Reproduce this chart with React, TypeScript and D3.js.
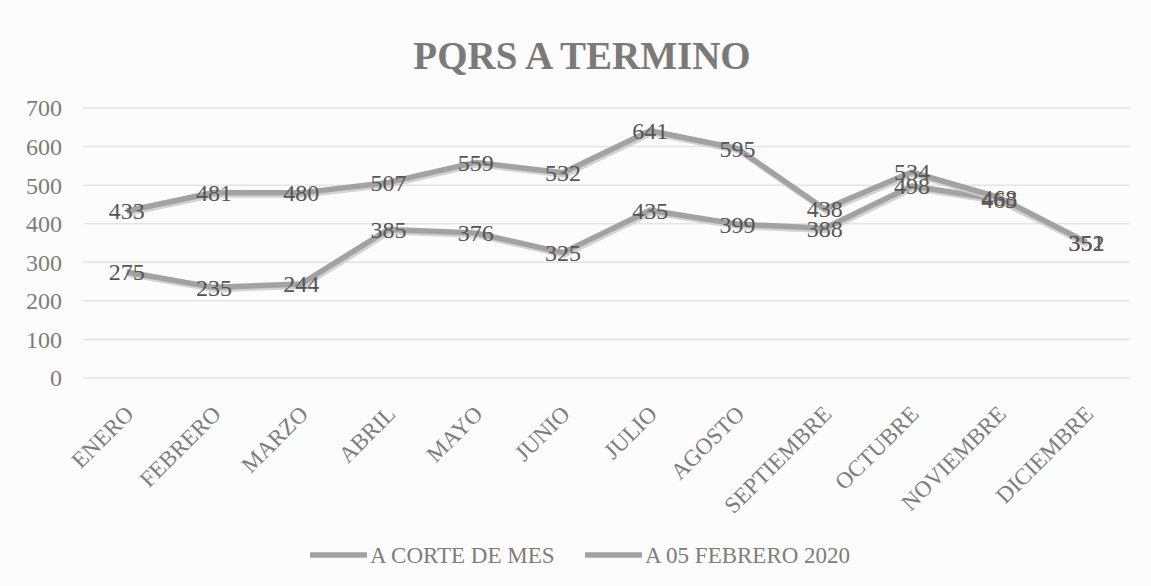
import React from 'react';
import * as d3 from 'd3';

const months = ['ENERO', 'FEBRERO', 'MARZO', 'ABRIL', 'MAYO', 'JUNIO', 'JULIO', 'AGOSTO', 'SEPTIEMBRE', 'OCTUBRE', 'NOVIEMBRE', 'DICIEMBRE'];
const corteDeMes = [275, 235, 244, 385, 376, 325, 435, 399, 388, 498, 463, 351];
const febrero2020 = [433, 481, 480, 507, 559, 532, 641, 595, 438, 534, 468, 352];
const seriesNames = ['A CORTE DE MES', 'A 05 FEBRERO 2020'];
const yTicks = [0, 100, 200, 300, 400, 500, 600, 700];

const W = 1151;
const H = 586;
const FONT = '"Liberation Serif", "DejaVu Serif", serif';

export default function App() {
  // plot area
  const x = d3.scaleBand<string>().domain(months).range([83, 1130]);
  const y = d3.scaleLinear().domain([0, 700]).range([378, 108]);
  const cx = (m: string) => (x(m) as number) + x.bandwidth() / 2;

  const line = d3.line<number>()
    .x((_, i) => cx(months[i]))
    .y(d => y(d));

  const series = [corteDeMes, febrero2020];
  const legendX = [310, 585];

  return (
    <svg width={W} height={H} style={{ position: 'absolute', left: 0, top: 0, background: '#fdfdfd' }}>
      <rect x={0} y={0} width={W} height={H} fill="#fcfcfc" />

      <text x={582} y={69} textAnchor="middle" fontFamily={FONT} fontWeight="bold"
        fontSize={39} fill="#7a7a7a">PQRS A TERMINO</text>

      {/* gridlines + y ticks */}
      {yTicks.map(t => (
        <g key={t}>
          <line x1={83} x2={1130} y1={y(t)} y2={y(t)} stroke="#e3e3e3" strokeWidth={1.5} />
          <text x={62} y={y(t)} dy="0.35em" textAnchor="end" fontFamily={FONT}
            fontSize={24} fill="#7d7d7d">{t}</text>
        </g>
      ))}

      {/* x labels */}
      {months.map(m => (
        <text key={m} transform={`translate(${cx(m) - 3},${404}) rotate(-45)`}
          textAnchor="end" dy="0.7em" fontFamily={FONT} fontSize={23} fill="#7d7d7d">{m}</text>
      ))}

      {/* lines */}
      {series.map((s, i) => (
        <g key={i}>
          <path d={line(s) || ''} fill="none" stroke="#d2d2d2" strokeWidth={6}
            transform="translate(1.5,2)" strokeLinejoin="round" />
          <path d={line(s) || ''} fill="none" stroke="#a2a2a2" strokeWidth={5.5}
            strokeLinejoin="round" />
        </g>
      ))}

      {/* data labels */}
      {series.map((s, i) => s.map((v, j) => (
        <text key={`${i}-${j}`} x={cx(months[j])} y={y(v)} dy="0.35em" textAnchor="middle"
          fontFamily={FONT} fontSize={24} fill="#555">{v}</text>
      )))}

      {/* legend */}
      {seriesNames.map((n, i) => (
        <g key={n}>
          <line x1={legendX[i]} x2={legendX[i] + 57} y1={555} y2={555} stroke="#a2a2a2" strokeWidth={5.5} />
          <text x={legendX[i] + 60} y={555} dy="0.35em" fontFamily={FONT} fontSize={23}
            fill="#7d7d7d">{n}</text>
        </g>
      ))}
    </svg>
  );
}
